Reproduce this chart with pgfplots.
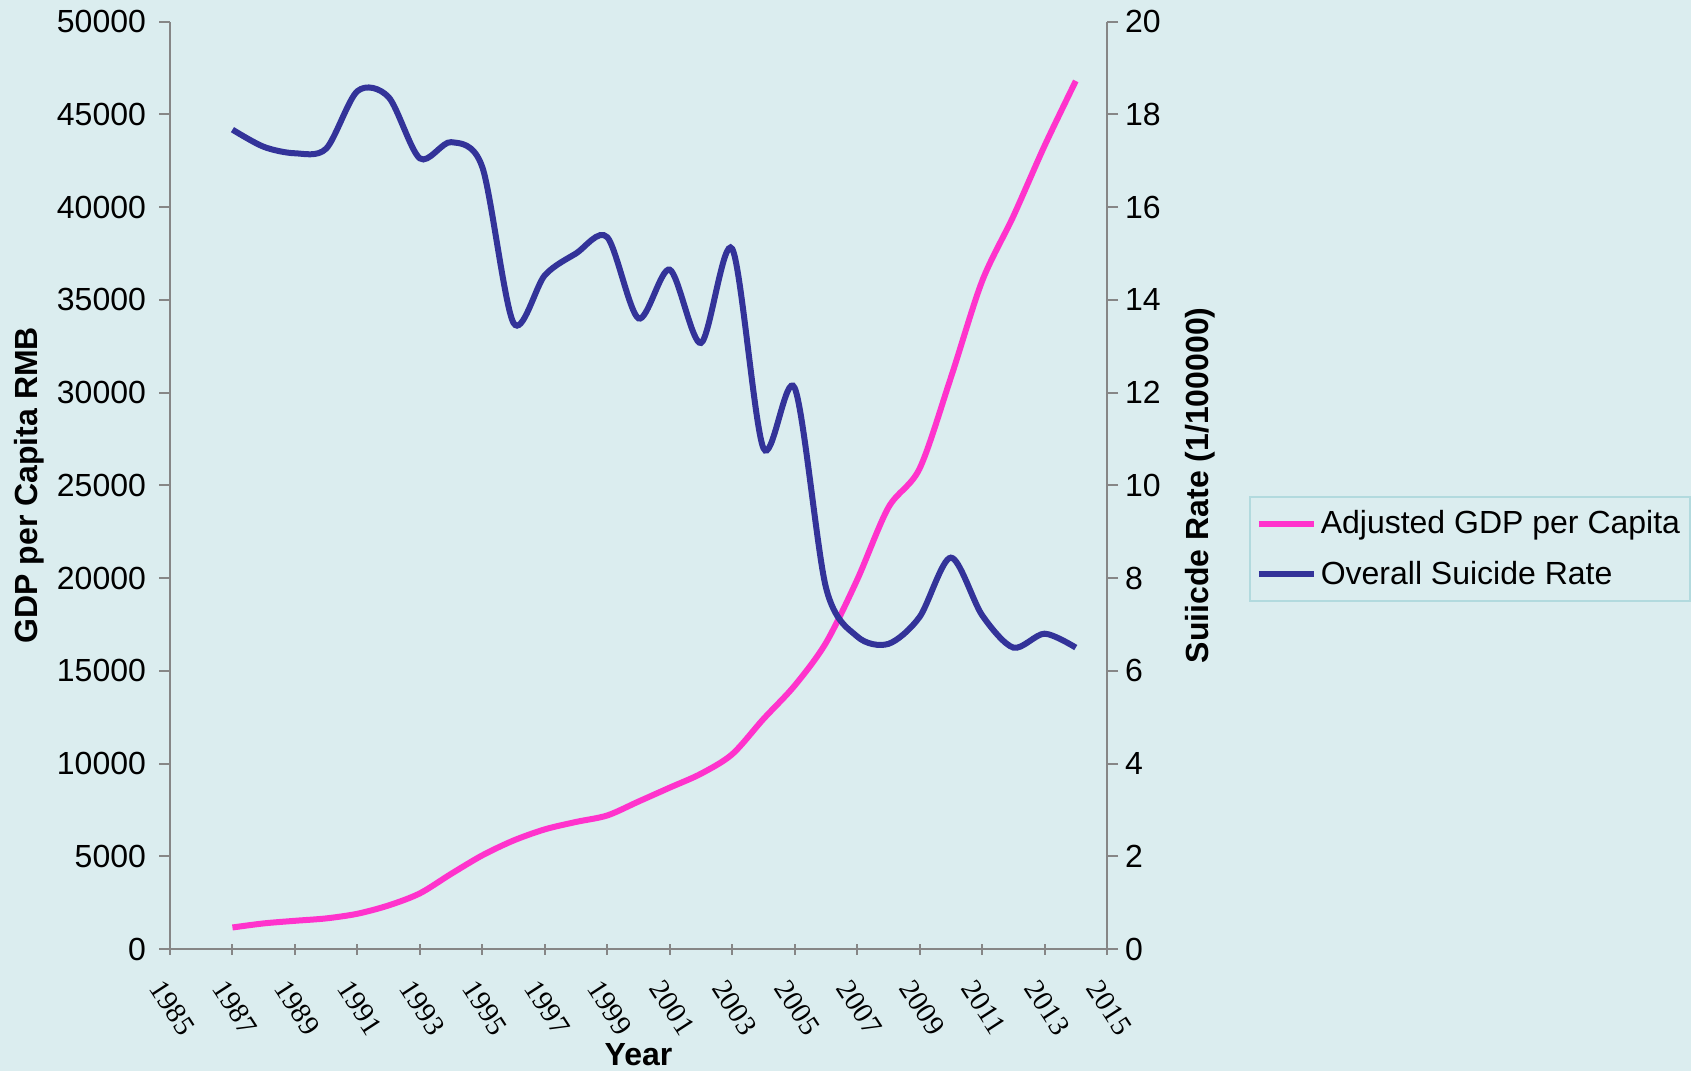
\documentclass[border=0pt]{standalone}
\usepackage{pgfplots}
\pgfplotsset{compat=1.18}
\usepackage{fontspec}
\setmainfont{Liberation Sans}
\newfontfamily\serifx{Liberation Serif}
\definecolor{bg}{RGB}{219,237,239}
\definecolor{pinkl}{RGB}{255,51,204}
\definecolor{navy}{RGB}{51,51,153}
\definecolor{axgray}{RGB}{134,134,134}
\definecolor{legbd}{RGB}{178,218,222}
\begin{document}
\begin{tikzpicture}
\fill[bg] (0,0) rectangle (845.5pt,535.5pt);
\useasboundingbox (0,0) rectangle (845.5pt,535.5pt);
\pgfplotsset{
 base/.style={scale only axis, width=468.5pt, height=463.7pt, at={(85pt,61pt)}, anchor=south west,
  xmin=1985, xmax=2015,
  axis line style={axgray, line width=1pt},
  tick style={axgray, line width=1pt},
  major tick length=5.5pt,
  /pgf/number format/assume math mode=true,
  /pgf/number format/1000 sep={},
  tick label style={font=\fontsize{16}{19}\selectfont},
  label style={font=\bfseries\fontsize{16}{19}\selectfont},
 },
}
\begin{axis}[base,
  axis x line*=bottom, axis y line*=left,
  ymin=0, ymax=50000, ytick={0,5000,...,50000}, scaled y ticks=false,
  xtick={1985,1987,...,2015}, xtick align=center, ytick align=outside,
  xticklabel style={font=\serifx\fontsize{14.5}{14.5}\selectfont, rotate=-57, anchor=north west, xshift=5pt, yshift=-5pt},
  yticklabel style={xshift=-3pt},
  xlabel={Year}, xlabel style={at={(axis description cs:0.5,-0.114)}, anchor=center},
  ylabel={GDP per Capita RMB}, ylabel style={at={(axis description cs:-0.1505,0.5)}, anchor=center, rotate=0},
]
\addplot[pinkl, line width=3pt, smooth, tension=0.5] coordinates {
(1987,1160) (1988,1380) (1989,1520) (1990,1650) (1991,1900) (1992,2350) (1993,3000)
(1994,4050) (1995,5050) (1996,5850) (1997,6450) (1998,6850) (1999,7200) (2000,7950)
(2001,8700) (2002,9450) (2003,10500) (2004,12400) (2005,14200) (2006,16500) (2007,19900)
(2008,23800) (2009,25900) (2010,30800) (2011,36000) (2012,39500) (2013,43300) (2014,46800)
};
\end{axis}
\begin{axis}[base,
  axis x line=none, axis y line*=right,
  ymin=0, ymax=20, ytick={0,2,...,20}, ytick align=outside,
  ylabel={Suiicde Rate (1/100000)}, ylabel style={at={(axis description cs:1.0993,0.5)}, anchor=center, rotate=0},
  legend style={at={(1.1515,0.4885)}, anchor=north west, fill=bg, draw=legbd, line width=0.8pt,
    font=\fontsize{16}{19}\selectfont, row sep=8pt, inner xsep=3pt, inner ysep=5pt},
  legend cell align=left,
  legend image code/.code={\draw[#1] (0pt,0pt) -- (27.5pt,0pt);},
]
\addlegendimage{pinkl, line width=3pt}
\addlegendentry{Adjusted GDP per Capita}
\addplot[navy, line width=3pt, smooth, tension=0.5] coordinates {
(1987,17.67) (1988,17.3) (1989,17.16) (1990,17.26) (1991,18.5) (1992,18.37) (1993,17.05)
(1994,17.4) (1995,16.86) (1996,13.5) (1997,14.53) (1998,15.0) (1999,15.35) (2000,13.6)
(2001,14.65) (2002,13.07) (2003,15.1) (2004,10.8) (2005,12.1) (2006,7.8) (2007,6.74)
(2008,6.58) (2009,7.16) (2010,8.44) (2011,7.2) (2012,6.5) (2013,6.8) (2014,6.5)
};
\addlegendentry{Overall Suicide Rate}
\end{axis}
\end{tikzpicture}
\end{document}
